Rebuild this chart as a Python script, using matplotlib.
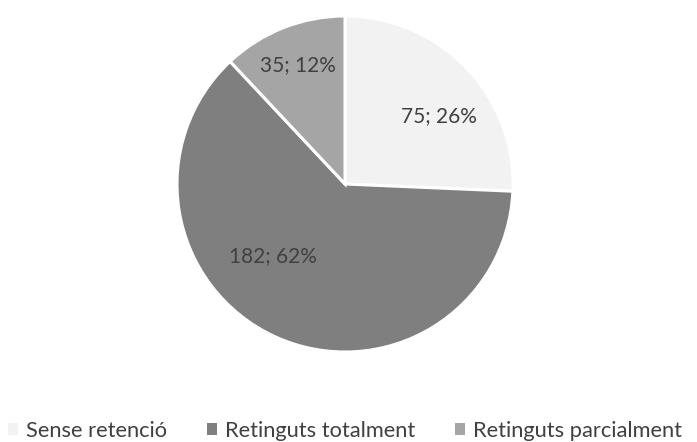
import matplotlib.pyplot as plt
from matplotlib.patches import Patch
import numpy as np

categories = ['Sense retenció', 'Retinguts totalment', 'Retinguts parcialment']
values = [75, 182, 35]
colors = ['#F2F2F2', '#7F7F7F', '#A5A5A5']
# where Excel put each data label: (angle in degrees, fraction of radius)
label_angle = [35.9, 225.0, 111.6]
label_dist = [0.69, 0.61, 0.76]

plt.rcParams['font.family'] = ['Lato', 'DejaVu Sans']
text_color = '#404040'
DPI = 100

fig = plt.figure(figsize=(6.97, 4.42), dpi=DPI)
W, H = 697, 442
ax = fig.add_axes([177 / W, 90 / H, 336 / W, 336 / H])

wedges, _ = ax.pie(values, colors=colors, startangle=90, counterclock=False,
                   radius=1, wedgeprops={'edgecolor': 'white', 'linewidth': 2.2})
ax.set_xlim(-1.0, 1.0)
ax.set_ylim(-1.0, 1.0)
ax.set_aspect('equal')
ax.axis('off')

renderer = fig.canvas.get_renderer()


def size_for_width(s, px, start=15):
    t = fig.text(0, 0, s, fontsize=start)
    w = t.get_window_extent(renderer).width
    t.remove()
    return start * px / w


total = sum(values)
label_fs = size_for_width('75; 26%', 76)
for v, a, d in zip(values, label_angle, label_dist):
    t = np.deg2rad(a)
    ax.text(d * np.cos(t), d * np.sin(t), f'{v}; {round(v / total * 100)}%',
            ha='center', va='center', fontsize=label_fs, color=text_color)

# legend: square swatches, sized in pixels then converted to font units
leg_fs = size_for_width('Retinguts totalment', 192)
em = leg_fs * DPI / 72
handles = [Patch(facecolor=c, edgecolor='none') for c in colors]
leg = fig.legend(handles, categories, loc='center left', bbox_to_anchor=(8 / W, 11 / H),
                 ncol=3, frameon=False, fontsize=leg_fs, labelcolor=text_color,
                 borderpad=0, borderaxespad=0,
                 handlelength=10 / em, handleheight=10 / em, handletextpad=8 / em,
                 columnspacing=40 / em)

fig.savefig('out.png', dpi=DPI)
